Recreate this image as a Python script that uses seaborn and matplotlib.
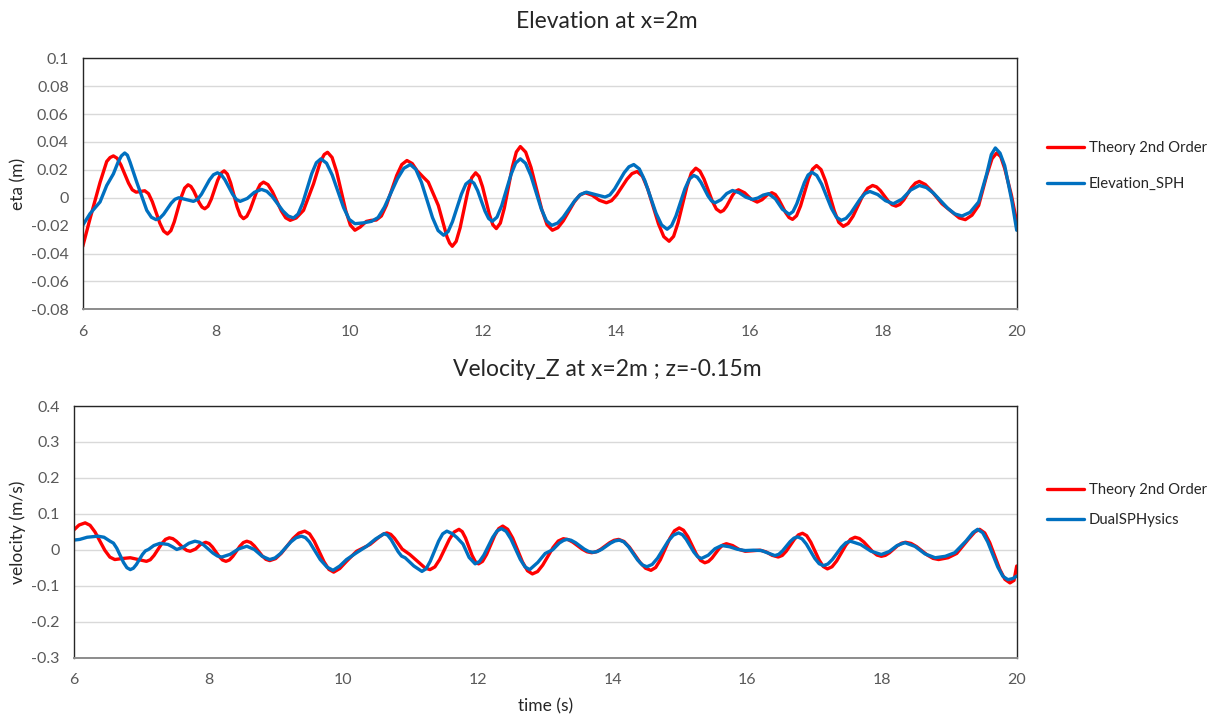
import matplotlib
matplotlib.use("Agg")
import matplotlib.pyplot as plt
import seaborn as sns
from matplotlib.ticker import FuncFormatter, MultipleLocator

# ---- Free-surface elevation at x = 2 m: (time s, eta m) ----
elev_theory = [
    (6.00, -0.035), (6.11, -0.015), (6.26, 0.011), (6.36, 0.026), (6.41, 0.0288),
    (6.46, 0.030), (6.517, 0.0283), (6.573, 0.0235), (6.687, 0.0105), (6.743, 0.0057),
    (6.80, 0.004), (6.865, 0.0045), (6.93, 0.005), (6.987, 0.0029), (7.043, -0.0028),
    (7.157, -0.0183), (7.213, -0.0239), (7.27, -0.026), (7.322, -0.0236), (7.373, -0.0172),
    (7.477, 0.0005), (7.528, 0.0069), (7.58, 0.0093), (7.622, 0.0081), (7.663, 0.005),
    (7.747, -0.0036), (7.788, -0.0067), (7.83, -0.0079), (7.878, -0.0061), (7.927, -0.0011),
    (8.023, 0.0125), (8.072, 0.0175), (8.12, 0.0193), (8.168, 0.0170), (8.217, 0.0107),
    (8.313, -0.0064), (8.362, -0.0127), (8.41, -0.015), (8.46, -0.0133), (8.51, -0.0085),
    (8.61, 0.0047), (8.66, 0.0095), (8.71, 0.0112), (8.777, 0.0094), (8.843, 0.0044),
    (8.977, -0.0094), (9.043, -0.0144), (9.11, -0.0162), (9.20, -0.0145), (9.31, -0.009),
    (9.46, 0.010), (9.56, 0.0255), (9.62, 0.031), (9.67, 0.0326), (9.738, 0.0289),
    (9.807, 0.0186), (9.943, -0.0093), (10.012, -0.0196), (10.08, -0.0233), (10.16, -0.021),
    (10.25, -0.017), (10.325, -0.0162), (10.40, -0.016), (10.477, -0.0131), (10.553, -0.0053),
    (10.707, 0.016), (10.783, 0.0238), (10.86, 0.0267), (10.94, 0.0245), (11.01, 0.0195),
    (11.10, 0.015), (11.18, 0.0112), (11.33, -0.0055), (11.46, -0.028), (11.50, -0.0325),
    (11.54, -0.0348), (11.598, -0.0313), (11.657, -0.0216), (11.773, 0.0047), (11.832, 0.0144),
    (11.89, 0.0179), (11.942, 0.0152), (11.993, 0.0079), (12.097, -0.0121), (12.148, -0.0194),
    (12.20, -0.0221), (12.26, -0.0182), (12.32, -0.0074), (12.44, 0.022), (12.50, 0.0328),
    (12.56, 0.0367), (12.64, 0.0327), (12.72, 0.0217), (12.88, -0.0083), (12.96, -0.0193),
    (13.04, -0.0233), (13.122, -0.0215), (13.203, -0.0166), (13.367, -0.0031), (13.448, 0.0018),
    (13.53, 0.0036), (13.637, 0.0018), (13.743, -0.0018), (13.85, -0.0036), (13.927, -0.0021),
    (14.003, 0.002), (14.157, 0.0132), (14.233, 0.0173), (14.31, 0.0188), (14.39, 0.0155),
    (14.47, 0.0063), (14.63, -0.0187), (14.71, -0.0279), (14.79, -0.0312), (14.857, -0.0277),
    (14.923, -0.0181), (15.057, 0.0081), (15.123, 0.0177), (15.19, 0.0212), (15.252, 0.0191),
    (15.313, 0.0134), (15.437, -0.0024), (15.498, -0.0081), (15.56, -0.0102), (15.605, -0.0091),
    (15.65, -0.0062), (15.74, 0.0017), (15.785, 0.0046), (15.83, 0.0057), (15.923, 0.0035),
    (16.017, -0.0009), (16.11, -0.0031), (16.183, -0.0014), (16.257, 0.0019), (16.33, 0.0036),
    (16.382, 0.0023), (16.433, -0.0012), (16.537, -0.0107), (16.588, -0.0142), (16.64, -0.0155),
    (16.70, -0.0129), (16.76, -0.0059), (16.88, 0.0135), (16.94, 0.0205), (17.00, 0.0231),
    (17.067, 0.0202), (17.133, 0.0122), (17.267, -0.0096), (17.333, -0.0176), (17.40, -0.0205),
    (17.473, -0.0185), (17.547, -0.0132), (17.693, 0.0015), (17.767, 0.0068), (17.84, 0.0088),
    (17.898, 0.0078), (17.957, 0.0051), (18.073, -0.0023), (18.132, -0.005), (18.19, -0.006),
    (18.248, -0.0048), (18.307, -0.0016), (18.423, 0.0073), (18.482, 0.0105), (18.54, 0.0117),
    (18.63, 0.0095), (18.72, 0.005), (18.88, -0.0043), (19.05, -0.011), (19.14, -0.0145),
    (19.23, -0.0157), (19.33, -0.0125), (19.43, -0.0055), (19.55, 0.016), (19.63, 0.028),
    (19.70, 0.0321), (19.76, 0.0295), (19.82, 0.021), (19.92, 0.002), (20.00, -0.0174),
]
elev_sph = [
    (6.00, -0.0198), (6.11, -0.0114), (6.26, -0.003), (6.36, 0.0088), (6.46, 0.0171),
    (6.53, 0.0255), (6.58, 0.0300), (6.63, 0.0321), (6.67, 0.0305), (6.71, 0.0255),
    (6.81, 0.0112), (6.96, -0.009), (7.03, -0.0140), (7.10, -0.0157), (7.157, -0.0146),
    (7.213, -0.0118), (7.327, -0.0039), (7.383, -0.0011), (7.44, 0.0), (7.55, -0.0013),
    (7.66, -0.0026), (7.72, -0.0012), (7.78, 0.0025), (7.90, 0.0128), (7.96, 0.0165),
    (8.02, 0.0179), (8.077, 0.0165), (8.133, 0.0128), (8.247, 0.0025), (8.303, -0.0012),
    (8.36, -0.0026), (8.467, -0.0005), (8.573, 0.0039), (8.68, 0.006), (8.76, 0.0046),
    (8.84, 0.0009), (9.00, -0.0094), (9.08, -0.0131), (9.16, -0.0145), (9.228, -0.0117),
    (9.297, -0.0039), (9.433, 0.0173), (9.502, 0.0251), (9.57, 0.0279), (9.655, 0.0248),
    (9.74, 0.0163), (9.91, -0.007), (9.995, -0.0155), (10.08, -0.0186), (10.21, -0.0180),
    (10.33, -0.0169), (10.427, -0.0142), (10.523, -0.0067), (10.717, 0.0136), (10.813, 0.0211),
    (10.91, 0.0238), (10.993, 0.0204), (11.077, 0.0111), (11.243, -0.0142), (11.327, -0.0235),
    (11.41, -0.0269), (11.477, -0.0243), (11.543, -0.0171), (11.677, 0.0026), (11.743, 0.0098),
    (11.81, 0.0124), (11.865, 0.0104), (11.92, 0.0051), (12.03, -0.0096), (12.085, -0.0149),
    (12.14, -0.0169), (12.21, -0.0139), (12.28, -0.0057), (12.42, 0.0167), (12.49, 0.0249),
    (12.56, 0.0279), (12.638, 0.0247), (12.717, 0.016), (12.873, -0.0079), (12.952, -0.0166),
    (13.03, -0.0198), (13.117, -0.0182), (13.203, -0.0139), (13.377, -0.002), (13.463, 0.0024),
    (13.55, 0.004), (13.69, 0.0022), (13.83, 0.0005), (13.902, 0.002), (13.973, 0.0063),
    (14.117, 0.018), (14.188, 0.0222), (14.26, 0.0238), (14.343, 0.0207), (14.427, 0.0122),
    (14.593, -0.011), (14.677, -0.0195), (14.76, -0.0226), (14.827, -0.0200), (14.893, -0.013),
    (15.027, 0.0064), (15.093, 0.0134), (15.16, 0.016), (15.213, 0.0147), (15.267, 0.0111),
    (15.373, 0.0013), (15.427, -0.0023), (15.48, -0.0036), (15.567, -0.0014), (15.653, 0.003),
    (15.74, 0.0052), (15.84, 0.0036), (15.94, 0.0004), (16.04, -0.0012), (16.12, -0.0002),
    (16.20, 0.0019), (16.28, 0.0029), (16.383, -0.0008), (16.487, -0.0082), (16.59, -0.0119),
    (16.647, -0.0099), (16.703, -0.0044), (16.817, 0.0108), (16.873, 0.0163), (16.93, 0.0183),
    (17.003, 0.016), (17.077, 0.0097), (17.223, -0.0076), (17.297, -0.0139), (17.37, -0.0162),
    (17.442, -0.0148), (17.513, -0.011), (17.657, -0.0007), (17.728, 0.0031), (17.80, 0.0045),
    (17.917, 0.0023), (18.033, -0.0021), (18.15, -0.0043), (18.28, -0.001), (18.41, 0.0055),
    (18.54, 0.0088), (18.647, 0.0073), (18.753, 0.0033), (18.967, -0.0076), (19.073, -0.0116),
    (19.18, -0.0131), (19.30, -0.0105), (19.43, -0.003), (19.55, 0.017), (19.62, 0.031),
    (19.68, 0.0357), (19.75, 0.032), (19.82, 0.023), (19.93, -0.003), (20.00, -0.0233),
]

# ---- Vertical velocity at x = 2 m, z = -0.15 m: (time s, w m/s) ----
vel_theory = [
    (6.00, 0.055), (6.08, 0.069), (6.17, 0.075), (6.243, 0.0682), (6.317, 0.0495),
    (6.463, -0.0015), (6.537, -0.0202), (6.61, -0.027), (6.73, -0.024), (6.84, -0.022),
    (6.96, -0.027), (7.08, -0.032), (7.137, -0.0276), (7.193, -0.0156), (7.307, 0.0171),
    (7.363, 0.0291), (7.42, 0.0335), (7.472, 0.031), (7.523, 0.0241), (7.627, 0.0054),
    (7.678, -0.0015), (7.73, -0.004), (7.81, 0.0023), (7.88, 0.0148), (7.96, 0.021),
    (8.01, 0.0175), (8.06, 0.0078), (8.16, -0.0188), (8.21, -0.0284), (8.26, -0.032),
    (8.312, -0.0282), (8.363, -0.018), (8.467, 0.010), (8.518, 0.0202), (8.57, 0.024),
    (8.627, 0.0204), (8.683, 0.0105), (8.797, -0.0165), (8.853, -0.0264), (8.91, -0.030),
    (8.997, -0.0245), (9.083, -0.0095), (9.257, 0.0315), (9.343, 0.0465), (9.43, 0.052),
    (9.502, 0.0444), (9.573, 0.0235), (9.717, -0.0335), (9.788, -0.0544), (9.86, -0.062),
    (9.95, -0.052), (10.05, -0.032), (10.20, -0.004), (10.40, 0.015), (10.53, 0.035),
    (10.60, 0.044), (10.65, 0.047), (10.707, 0.043), (10.763, 0.032), (10.877, 0.002),
    (10.99, -0.013), (11.14, -0.038), (11.22, -0.051), (11.29, -0.055), (11.362, -0.0475),
    (11.433, -0.027), (11.577, 0.029), (11.648, 0.0495), (11.72, 0.057), (11.768, 0.0506),
    (11.817, 0.033), (11.913, -0.015), (11.962, -0.0326), (12.01, -0.039), (12.07, -0.032),
    (12.13, -0.0128), (12.25, 0.0398), (12.31, 0.059), (12.37, 0.066), (12.443, 0.0571),
    (12.517, 0.0328), (12.663, -0.0338), (12.737, -0.0581), (12.81, -0.067), (12.887, -0.0604),
    (12.963, -0.0425), (13.117, 0.0065), (13.193, 0.0244), (13.27, 0.031), (13.34, 0.0284),
    (13.41, 0.0213), (13.55, 0.0018), (13.62, -0.0054), (13.69, -0.008), (13.757, -0.0055),
    (13.823, 0.0013), (13.957, 0.0198), (14.023, 0.0265), (14.09, 0.029), (14.17, 0.0232),
    (14.25, 0.0075), (14.41, -0.0355), (14.49, -0.0512), (14.57, -0.057), (14.64, -0.0491),
    (14.71, -0.0275), (14.85, 0.0315), (14.92, 0.0531), (14.99, 0.061), (15.053, 0.0545),
    (15.117, 0.0368), (15.243, -0.0118), (15.307, -0.0295), (15.37, -0.036), (15.423, -0.0324),
    (15.477, -0.0228), (15.583, 0.0038), (15.637, 0.0134), (15.69, 0.017), (15.783, 0.0118),
    (15.877, 0.0013), (15.97, -0.004), (16.08, -0.0025), (16.19, -0.001), (16.28, -0.0058),
    (16.37, -0.0153), (16.46, -0.020), (16.52, -0.0156), (16.58, -0.0035), (16.70, 0.0295),
    (16.76, 0.0416), (16.82, 0.046), (16.882, 0.0394), (16.943, 0.0213), (17.067, -0.0283),
    (17.128, -0.0464), (17.19, -0.053), (17.258, -0.0471), (17.327, -0.031), (17.463, 0.013),
    (17.532, 0.0291), (17.60, 0.035), (17.665, 0.0315), (17.73, 0.0218), (17.86, -0.0048),
    (17.925, -0.0145), (17.99, -0.018), (18.05, -0.0154), (18.11, -0.0083), (18.23, 0.0113),
    (18.29, 0.0184), (18.35, 0.021), (18.432, 0.0178), (18.513, 0.009), (18.677, -0.015),
    (18.758, -0.0238), (18.84, -0.027), (18.98, -0.022), (19.11, -0.010), (19.28, 0.0288),
    (19.38, 0.050), (19.45, 0.057), (19.525, 0.047), (19.60, 0.0198), (19.75, -0.0548),
    (19.825, -0.082), (19.90, -0.092), (19.96, -0.085), (20.00, -0.045),
]
vel_sph = [
    (6.00, 0.027), (6.09, 0.029), (6.20, 0.035), (6.36, 0.038), (6.45, 0.035),
    (6.54, 0.024), (6.59, 0.0187), (6.64, 0.0043), (6.74, -0.0353), (6.79, -0.0497),
    (6.84, -0.055), (6.885, -0.0512), (6.93, -0.041), (7.02, -0.013), (7.065, -0.0028),
    (7.11, 0.001), (7.19, 0.012), (7.28, 0.018), (7.40, 0.015), (7.47, 0.008),
    (7.53, 0.001), (7.62, 0.0068), (7.71, 0.0183), (7.80, 0.024), (7.867, 0.0211),
    (7.933, 0.013), (8.067, -0.009), (8.133, -0.0171), (8.20, -0.020), (8.323, -0.0125),
    (8.447, 0.0025), (8.57, 0.010), (8.683, 0.0008), (8.797, -0.0178), (8.91, -0.027),
    (8.988, -0.0226), (9.067, -0.0108), (9.223, 0.0218), (9.302, 0.0336), (9.38, 0.038),
    (9.44, 0.034), (9.50, 0.022), (9.66, -0.027), (9.76, -0.048), (9.85, -0.057),
    (9.95, -0.045), (10.05, -0.027), (10.20, -0.008), (10.35, 0.010), (10.48, 0.030),
    (10.61, 0.045), (10.662, 0.0405), (10.713, 0.0283), (10.817, -0.0053), (10.868, -0.0175),
    (10.92, -0.022), (11.05, -0.045), (11.17, -0.060), (11.232, -0.0525), (11.293, -0.032),
    (11.417, 0.024), (11.478, 0.0445), (11.54, 0.052), (11.62, 0.045), (11.69, 0.034),
    (11.78, 0.016), (11.87, -0.021), (11.96, -0.039), (12.025, -0.0324), (12.09, -0.0145),
    (12.22, 0.0345), (12.285, 0.0524), (12.35, 0.059), (12.42, 0.0514), (12.49, 0.0305),
    (12.63, -0.0265), (12.70, -0.0474), (12.77, -0.055), (12.89, -0.035), (13.00, -0.010),
    (13.11, 0.000), (13.21, 0.019), (13.27, 0.026), (13.32, 0.029), (13.385, 0.0266),
    (13.45, 0.020), (13.58, 0.002), (13.645, -0.0046), (13.71, -0.007), (13.775, -0.0047),
    (13.84, 0.0015), (13.97, 0.0185), (14.035, 0.0247), (14.10, 0.027), (14.168, 0.022),
    (14.237, 0.0085), (14.373, -0.0285), (14.442, -0.042), (14.51, -0.047), (14.588, -0.0407),
    (14.667, -0.0235), (14.823, 0.0235), (14.902, 0.0407), (14.98, 0.047), (15.037, 0.0422),
    (15.093, 0.0293), (15.207, -0.0063), (15.263, -0.0192), (15.32, -0.024), (15.42, -0.015),
    (15.52, 0.003), (15.62, 0.012), (15.737, 0.0085), (15.853, 0.0015), (15.97, -0.002),
    (16.09, -0.001), (16.21, -0.002), (16.31, -0.009), (16.41, -0.016), (16.467, -0.0125),
    (16.523, -0.003), (16.637, 0.023), (16.693, 0.0325), (16.75, 0.036), (16.813, 0.0306),
    (16.877, 0.016), (17.003, -0.024), (17.067, -0.0386), (17.13, -0.044), (17.197, -0.0394),
    (17.263, -0.027), (17.397, 0.007), (17.463, 0.0195), (17.53, 0.024), (17.683, 0.0148),
    (17.837, -0.0038), (17.99, -0.013), (18.107, -0.0048), (18.223, 0.0118), (18.34, 0.020),
    (18.49, 0.0095), (18.64, -0.0115), (18.79, -0.022), (18.94, -0.018), (19.08, -0.008),
    (19.25, 0.025), (19.35, 0.048), (19.42, 0.057), (19.495, 0.0476), (19.57, 0.022),
    (19.72, -0.048), (19.795, -0.0736), (19.87, -0.083), (19.94, -0.080), (20.00, -0.073),
]

x_ticks = [6, 8, 10, 12, 14, 16, 18, 20]

RED = "#FF0000"
BLUE = "#0070C0"
TICK_COLOR = "#595959"
TEXT_COLOR = "#262626"

sns.set_theme(style="white")
plt.rcParams["font.family"] = ["Lato", "DejaVu Sans"]

W, H = 1212, 716
fig = plt.figure(figsize=(W / 100, H / 100), dpi=100)
ax_top = fig.add_axes([82.7 / W, 1 - 309.3 / H, 934 / W, 251 / H])
ax_bot = fig.add_axes([73.7 / W, 1 - 657.7 / H, 943 / W, 251.7 / H])


def tick_fmt(v, pos):
    v = round(v, 4)
    if abs(v) < 1e-9:
        return "0"
    return f"{v:g}"


def draw(ax, series, color, label):
    t, v = zip(*series)
    sns.lineplot(x=list(t), y=list(v), ax=ax, color=color, lw=2.4,
                 label=label, estimator=None, sort=False)


draw(ax_top, elev_theory, RED, "Theory 2nd Order")
draw(ax_top, elev_sph, BLUE, "Elevation_SPH")
draw(ax_bot, vel_theory, RED, "Theory 2nd Order")
draw(ax_bot, vel_sph, BLUE, "DualSPHysics")

panels = [
    (ax_top, (-0.08, 0.1), 0.02, "eta (m)", 82.7, 934),
    (ax_bot, (-0.3, 0.4), 0.1, "velocity (m/s)", 73.7, 943),
]
for ax, ylim, ystep, ylabel, left_px, width_px in panels:
    ax.set_xlim(6, 20)
    ax.set_ylim(*ylim)
    ax.set_xticks(x_ticks)
    ax.yaxis.set_major_locator(MultipleLocator(ystep))
    ax.yaxis.set_major_formatter(FuncFormatter(tick_fmt))
    ax.xaxis.set_major_formatter(FuncFormatter(tick_fmt))
    ax.yaxis.grid(True, color="#D9D9D9", lw=1.0)
    ax.xaxis.grid(False)
    ax.set_axisbelow(True)
    ax.tick_params(axis="both", length=0, labelsize=11.5, labelcolor=TICK_COLOR)
    ax.tick_params(axis="y", pad=10)
    ax.tick_params(axis="x", pad=11)
    for side in ("left", "top", "right"):
        ax.spines[side].set_color("#262626")
        ax.spines[side].set_linewidth(1.0)
    ax.spines["bottom"].set_color("#8C8C8C")
    ax.spines["bottom"].set_linewidth(1.4)
    ax.set_ylabel(ylabel, fontsize=12.5, color=TEXT_COLOR, va="center")
    ax.yaxis.set_label_coords((18 - left_px) / width_px, 0.5)
    ax.set_xlabel("")

ax_bot.set_xlabel("time (s)", fontsize=12.5, color=TEXT_COLOR, va="center")
ax_bot.xaxis.set_label_coords(0.5, (657.7 - 706) / 251.7)

legend_kw = dict(loc="center left", bbox_transform=fig.transFigure, frameon=False,
                 fontsize=10.7, handlelength=2.5, handletextpad=0.3, borderpad=0,
                 borderaxespad=0, labelcolor=TEXT_COLOR)
ax_top.legend(bbox_to_anchor=(1047 / W, 1 - 166 / H), labelspacing=1.5, **legend_kw)
ax_bot.legend(bbox_to_anchor=(1047 / W, 1 - 505 / H), labelspacing=1.05, **legend_kw)

fig.text(607 / W, 1 - 22 / H, "Elevation at x=2m", ha="center", va="center",
         fontsize=16.5, color=TEXT_COLOR)
fig.text(607 / W, 1 - 370 / H, "Velocity_Z at x=2m ; z=-0.15m", ha="center",
         va="center", fontsize=16.5, color=TEXT_COLOR)

fig.savefig("out.png", dpi=100, facecolor="white")
